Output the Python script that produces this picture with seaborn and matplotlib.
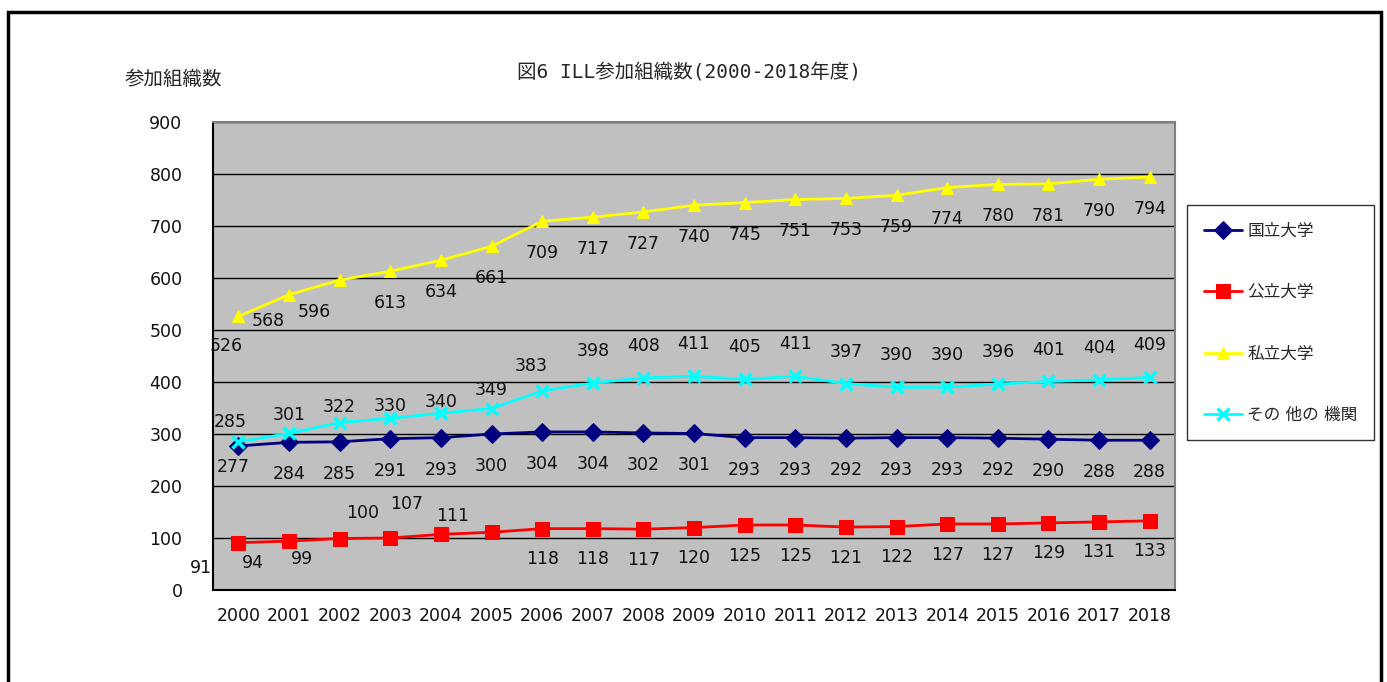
import numpy as np
import pandas as pd
import matplotlib
matplotlib.use("Agg")
import matplotlib.pyplot as plt
import seaborn as sns
from matplotlib.patches import Rectangle

years = [str(y) for y in range(2000, 2019)]
national = [277, 284, 285, 291, 293, 300, 304, 304, 302, 301, 293, 293, 292, 293, 293, 292, 290, 288, 288]
public = [91, 94, 99, 100, 107, 111, 118, 118, 117, 120, 125, 125, 121, 122, 127, 127, 129, 131, 133]
private = [526, 568, 596, 613, 634, 661, 709, 717, 727, 740, 745, 751, 753, 759, 774, 780, 781, 790, 794]
other = [285, 301, 322, 330, 340, 349, 383, 398, 408, 411, 405, 411, 397, 390, 390, 396, 401, 404, 409]
names = ["国立大学", "公立大学", "私立大学", "その 他の 機関"]

sns.set_style("white")
plt.rcParams['font.family'] = ['DejaVu Sans', 'Noto Sans CJK JP']

df = pd.DataFrame({"pos": list(range(len(years))) * 4,
                   "value": national + public + private + other,
                   "group": np.repeat(names, len(years))})

colors = ["#000080", "#FF0000", "#FFFF00", "#00FFFF"]
marks = ["D", "s", "^", "X"]

fig = plt.figure(figsize=(13.87, 6.82), dpi=100)
ax = fig.add_axes([0.1536, 0.1349, 0.6936, 0.6862])
ax.set_facecolor("#C0C0C0")

for name, col, mk in zip(names, colors, marks):
    sub = df[df.group == name]
    if mk == "X":
        sns.lineplot(data=sub, x="pos", y="value", ax=ax, color=col, lw=2,
                     marker="x", markersize=9, markeredgewidth=2.5,
                     markeredgecolor=col, label=name)
    else:
        sns.lineplot(data=sub, x="pos", y="value", ax=ax, color=col, lw=2,
                     marker=mk, markersize=9 if mk != "s" else 10,
                     markeredgecolor=col, label=name)

ax.set_ylim(0, 900)
ax.set_xlim(-0.5, len(years) - 0.5)
ax.set_yticks(range(0, 901, 100))
ax.yaxis.grid(True, color="black", lw=1)
ax.set_axisbelow(True)
ax.set_xticks(range(len(years)))
ax.set_xticklabels(years)
ax.set_xticks(np.arange(0.5, len(years) - 1, 1), minor=True)
ax.tick_params(axis="x", which="major", length=0, pad=12, labelsize=12.5, colors="#111111")
ax.tick_params(axis="x", which="minor", length=7, direction="in", color="black")
ax.tick_params(axis="y", length=0, pad=22, labelsize=12.5, colors="#111111")
ax.set_xlabel("")
ax.set_ylabel("")
for side in ["left", "bottom"]:
    ax.spines[side].set_color("black")
    ax.spines[side].set_linewidth(1.5)
for side in ["top", "right"]:
    ax.spines[side].set_color("#808080")
    ax.spines[side].set_linewidth(1.5)

fs = 12.5
nat_off = [(-4, -15)] + [(0, -23)] * 18
priv_off = [(-9, -21), (-15, -19), (-18, -23)] + [(0, -23)] * 16
oth_off = [(-6, 14), (0, 13), (0, 11), (0, 9), (0, 8), (0, 13), (-8, 18)] + [(0, 23)] * 12
pub_off = [(-27, -18), (-26, -16), (-27, -15), (-20, 18), (-25, 22), (-28, 12)] + [(0, -22)] * 13
for vals, offs in [(national, nat_off), (private, priv_off), (other, oth_off), (public, pub_off)]:
    for i, v in enumerate(vals):
        ax.annotate(str(v), (i, v), xytext=offs[i], textcoords="offset points",
                    ha="center", va="center", fontsize=fs, color="#111111")

leg = ax.legend(loc="upper left", bbox_to_anchor=(1.0125, 0.8226), frameon=True,
                fontsize=12, labelspacing=2.6, handlelength=2.3, borderpad=1.0,
                handletextpad=0.3, fancybox=False, borderaxespad=0)
leg.get_frame().set_edgecolor("black")
leg.get_frame().set_linewidth(1)

fig.text(0.497, 0.895, "図6 ILL参加組織数(2000-2018年度)", ha="center", va="center",
         fontsize=14, family=['DejaVu Sans Mono', 'Noto Sans CJK JP'])
fig.text(0.09, 0.883, "参加組織数", ha="left", va="center", fontsize=14)

fig.patches.append(Rectangle((0.0058, -0.1), 0.9899, 1.0824, transform=fig.transFigure,
                             fill=False, edgecolor="black", lw=2.5))

fig.savefig("out.png", dpi=100)
